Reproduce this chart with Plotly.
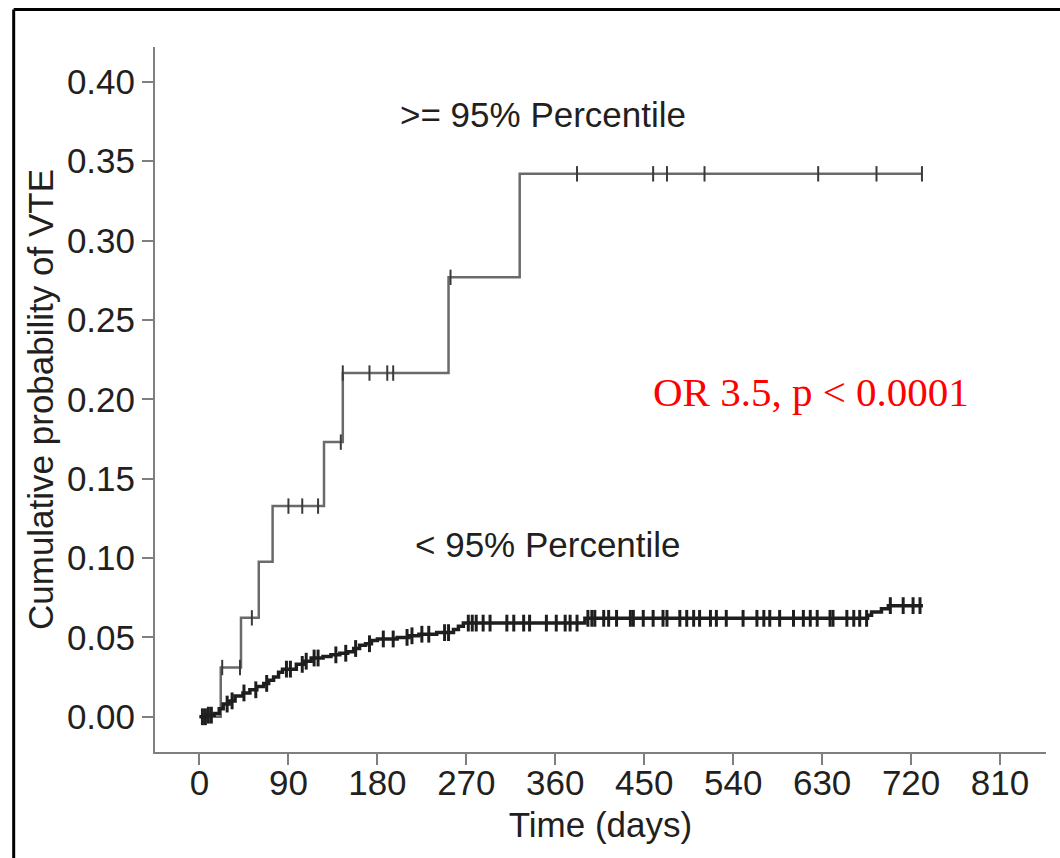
import numpy as np
import plotly.graph_objects as go

# ---------------- data ----------------
# >= 95% percentile group: step times (days) and cumulative probability after each step
high_times = [0, 21.5, 42, 60, 74, 126, 145, 252, 324]
high_probs = [0.0, 0.031, 0.0623, 0.0976, 0.1327, 0.1730, 0.2165, 0.2768, 0.3420]
high_end = 731
high_censor = [23, 41, 53, 90, 104, 120, 143, 145, 172, 190, 196, 254,
               382, 459, 473, 511, 626, 685, 731]

# < 95% percentile group
low_times = [0, 8, 15, 20, 24, 30, 36, 44, 51, 58, 65, 70, 75, 80, 84, 98, 106,
             113, 125, 133, 142, 150, 156, 162, 168, 174, 180, 200, 212, 222,
             240, 257, 262, 267, 390, 676, 680, 690, 697]
low_probs = [0.0, 0.001, 0.002, 0.005, 0.008, 0.010, 0.013, 0.015, 0.017, 0.019,
             0.021, 0.023, 0.025, 0.028, 0.030, 0.033, 0.035, 0.037, 0.038, 0.039,
             0.040, 0.041, 0.043, 0.045, 0.046, 0.048, 0.049, 0.050, 0.051, 0.052,
             0.053, 0.055, 0.057, 0.059, 0.062, 0.064, 0.066, 0.068, 0.070]
low_end = 732
low_censor = [3, 6, 9, 12, 28, 33, 45, 57, 68, 88, 92, 104, 108, 116, 120, 138,
              148, 158, 172, 186, 196, 210, 215, 225, 232, 248, 252, 272, 276,
              280, 287, 294, 311, 318, 328, 334, 351, 361, 370, 375, 382, 393,
              397, 400, 409, 414, 422, 436, 439, 449, 459, 469, 473, 486, 493,
              500, 506, 517, 523, 533, 550, 564, 571, 577, 587, 601, 611, 618,
              625, 638, 641, 655, 662, 668, 675, 699, 712, 722, 729]

x_ticks = [0, 90, 180, 270, 360, 450, 540, 630, 720, 810]
y_ticks = [0.00, 0.05, 0.10, 0.15, 0.20, 0.25, 0.30, 0.35, 0.40]

label_high = ">= 95% Percentile"
label_low = "< 95% Percentile"
stat_text = "OR 3.5, p < 0.0001"


def step_xy(times, probs, end):
    xs = list(times) + [end]
    ys = list(probs) + [probs[-1]]
    return xs, ys


def at(times, probs, t):
    idx = np.searchsorted(np.array(times), np.array(t), side="right") - 1
    return np.array(probs)[idx]


SANS = "Arial, 'Liberation Sans', sans-serif"
TXT = "#231f20"
AX = "#7f7f7f"

fig = go.Figure()

hx, hy = step_xy(high_times, high_probs, high_end)
fig.add_trace(go.Scatter(x=hx, y=hy, mode="lines", line_shape="hv",
                         line=dict(color="#6a6a6a", width=2.5),
                         showlegend=False, hoverinfo="skip"))
fig.add_trace(go.Scatter(x=high_censor, y=at(high_times, high_probs, high_censor),
                         mode="markers",
                         marker=dict(symbol="line-ns-open", size=11, color="#3a3a3a",
                                     line=dict(color="#3a3a3a", width=2)),
                         showlegend=False))

lx, ly = step_xy(low_times, low_probs, low_end)
fig.add_trace(go.Scatter(x=lx, y=ly, mode="lines", line_shape="hv",
                         line=dict(color="#1e1e1e", width=3.5),
                         showlegend=False, hoverinfo="skip"))
fig.add_trace(go.Scatter(x=low_censor, y=at(low_times, low_probs, low_censor),
                         mode="markers",
                         marker=dict(symbol="line-ns-open", size=12, color="#1e1e1e",
                                     line=dict(color="#1e1e1e", width=3)),
                         showlegend=False))

fig.add_annotation(x=347.6, y=0.3795, text=label_high, showarrow=False,
                   font=dict(family=SANS, size=35, color=TXT))
fig.add_annotation(x=352.6, y=0.1088, text=label_low, showarrow=False,
                   font=dict(family=SANS, size=35, color=TXT))
fig.add_annotation(x=618.7, y=0.2045, text=stat_text, showarrow=False,
                   font=dict(family="'Liberation Serif', 'Times New Roman', serif",
                             size=41, color="#ff0000"))

# outer frame (left and top edges visible in the reference)
fig.add_shape(type="line", xref="paper", yref="paper",
              x0=-0.1586, x1=-0.1586, y0=1.0532, y1=-0.16,
              line=dict(color="black", width=3))
fig.add_shape(type="line", xref="paper", yref="paper",
              x0=-0.1586, x1=1.02, y0=1.0532, y1=1.0532,
              line=dict(color="black", width=3))

fig.update_xaxes(range=[-45, 856.5], tickvals=x_ticks,
                 ticks="outside", ticklen=11, tickwidth=2, tickcolor=AX,
                 ticklabelstandoff=-12,
                 showline=True, linecolor=AX, linewidth=2,
                 showgrid=False, zeroline=False,
                 tickfont=dict(family=SANS, size=35, color=TXT),
                 title=dict(text="Time (days)", font=dict(family=SANS, size=35, color=TXT),
                            standoff=11))
fig.update_yaxes(range=[-0.0222, 0.4219], tickvals=y_ticks, tickformat=".2f",
                 ticks="outside", ticklen=11, tickwidth=2, tickcolor=AX,
                 showline=True, linecolor=AX, linewidth=2,
                 showgrid=False, zeroline=False,
                 tickfont=dict(family=SANS, size=35, color=TXT),
                 title=dict(text="Cumulative probability of VTE",
                            font=dict(family=SANS, size=35, color=TXT),
                            standoff=3))

fig.update_layout(width=1060, height=858,
                  margin=dict(l=155, r=14, t=47, b=106, autoexpand=False),
                  paper_bgcolor="white", plot_bgcolor="white")

fig.write_html("out.html")
